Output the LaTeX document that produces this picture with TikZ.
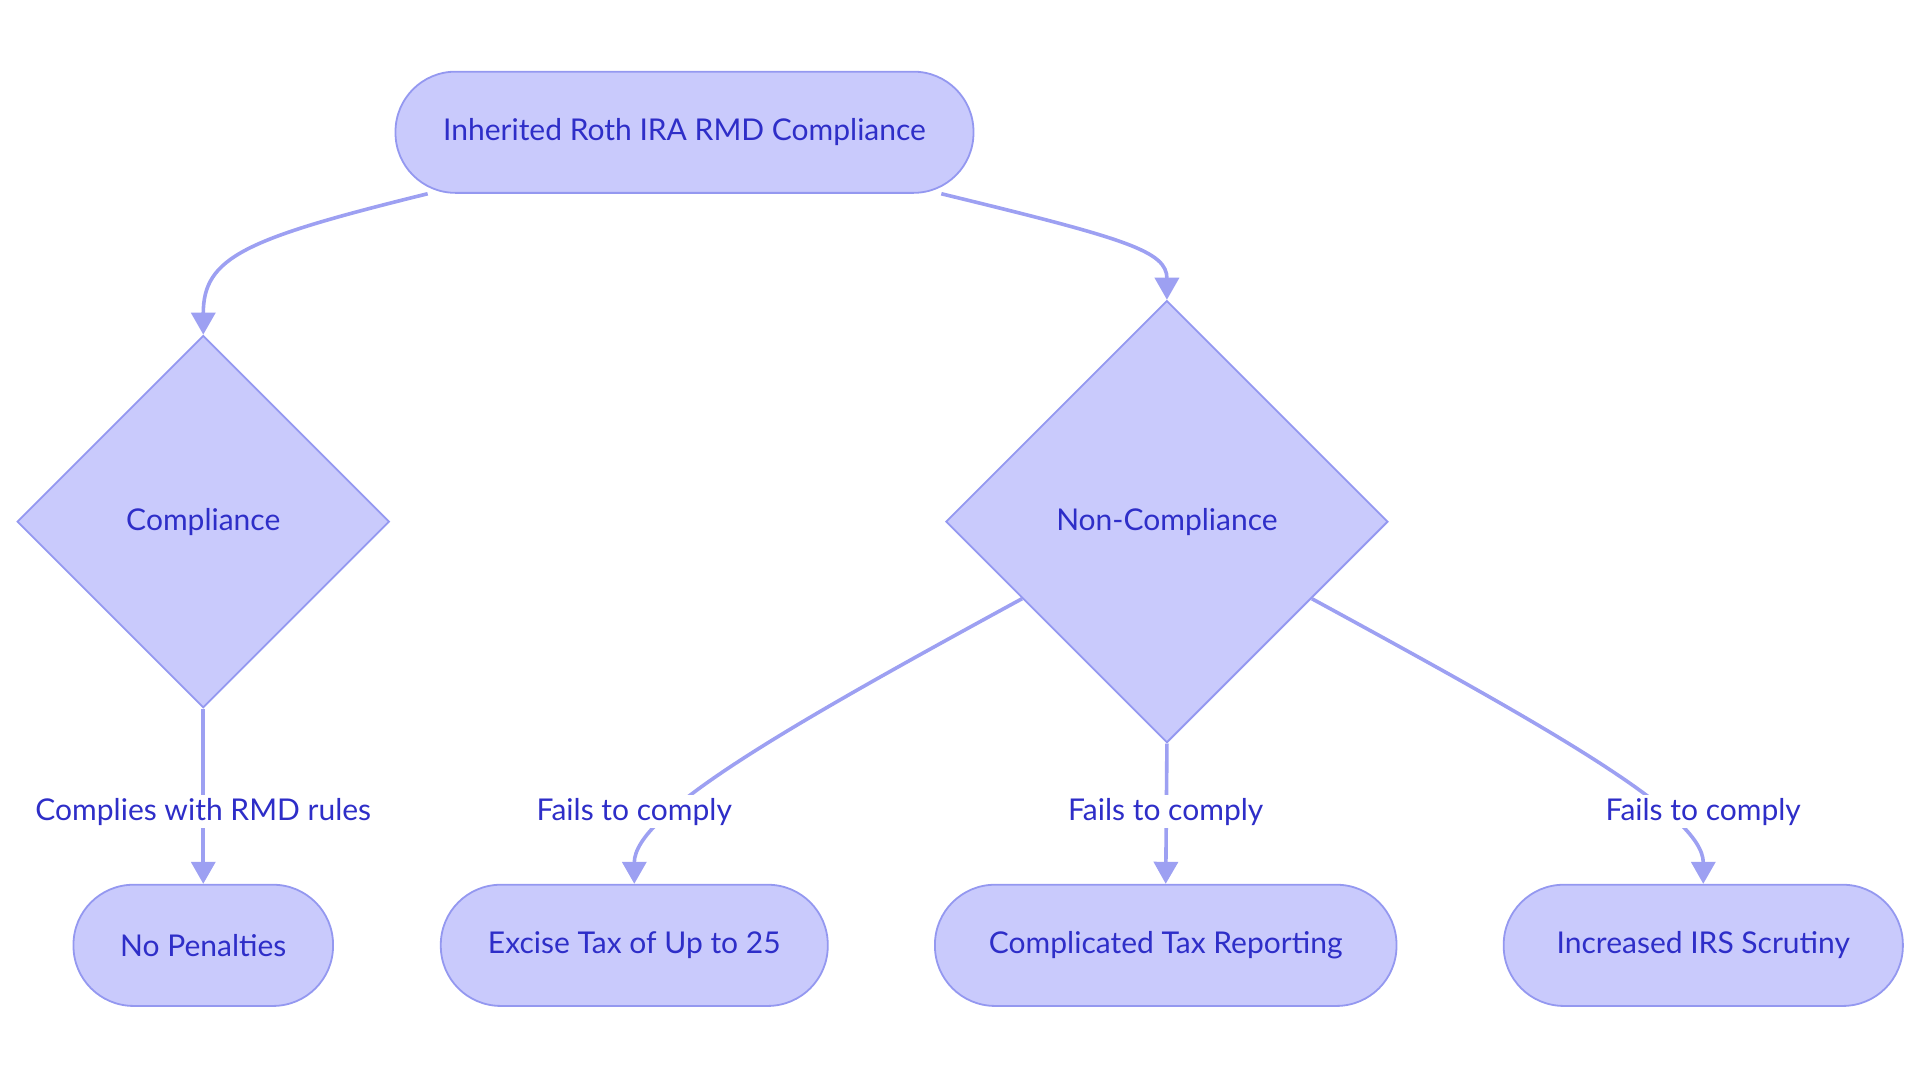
\documentclass[tikz,border=0pt]{standalone}
\usepackage{fontspec}
\setmainfont{Lato}
\usetikzlibrary{shapes.geometric,arrows.meta}
\definecolor{nfill}{RGB}{201,202,252}
\definecolor{nborder}{RGB}{148,152,240}
\definecolor{ntext}{RGB}{46,46,200}
\definecolor{eline}{RGB}{157,160,242}
\tikzset{
  base/.style={draw=nborder, fill=nfill, line width=0.9pt, text=ntext, font=\fontsize{15}{18}\selectfont, inner sep=0pt},
  stadium/.style={base, rectangle, rounded corners=30pt, minimum height=60.6pt},
  decision/.style={base, diamond, aspect=1},
  edge/.style={draw=eline, line width=1.8pt, -{Triangle[length=11pt,width=12pt]}},
  lbl/.style={fill=white, text=ntext, font=\fontsize{15}{18}\selectfont, inner sep=1.5pt}
}
\begin{document}
\begin{tikzpicture}[x=0.61225pt, y=-0.61225pt]
\useasboundingbox (0,0) rectangle (1568,884.4);
\node[stadium, minimum width=289pt] (top) at (559,108) {Inherited Roth IRA RMD Compliance};
\node[decision, minimum width=186.1pt, minimum height=186.1pt] (comp) at (166,426) {Compliance};
\node[decision, minimum width=221pt, minimum height=221pt] (non) at (953,426) {Non-Compliance};
\node[stadium, minimum width=129.8pt] (nop) at (166,772) {No Penalties};
\node[stadium, minimum width=193.5pt] (exc) at (518,772) {Excise Tax of Up to 25};
\node[stadium, minimum width=230.8pt] (cpl) at (952,772) {Complicated Tax Reporting};
\node[stadium, minimum width=199.6pt] (irs) at (1391,772) {Increased IRS Scrutiny};

\draw[edge] (top.south west) ++(27,0) coordinate (t1) .. controls (200,195) and (166,210) .. (comp.north);
\draw[edge] (top.south east) ++(-27,0) coordinate (t2) .. controls (920,195) and (953,205) .. (non.north);
\draw[edge] (comp.south) -- (nop.north);
\draw[edge] (non.208.7) .. controls (640,595) and (518,665) .. (exc.north);
\draw[edge] (non.south) -- (cpl.north);
\draw[edge] (non.-28.7) .. controls (1266,595) and (1391,665) .. (irs.north);

\node[lbl] (l1) at (166,663) {Complies with RMD rules};
\node[lbl] (l2) at (518,663) {Fails to comply};
\node[lbl] (l3) at (952,663) {Fails to comply};
\node[lbl] (l4) at (1391,663) {Fails to comply};
\end{tikzpicture}
\end{document}
